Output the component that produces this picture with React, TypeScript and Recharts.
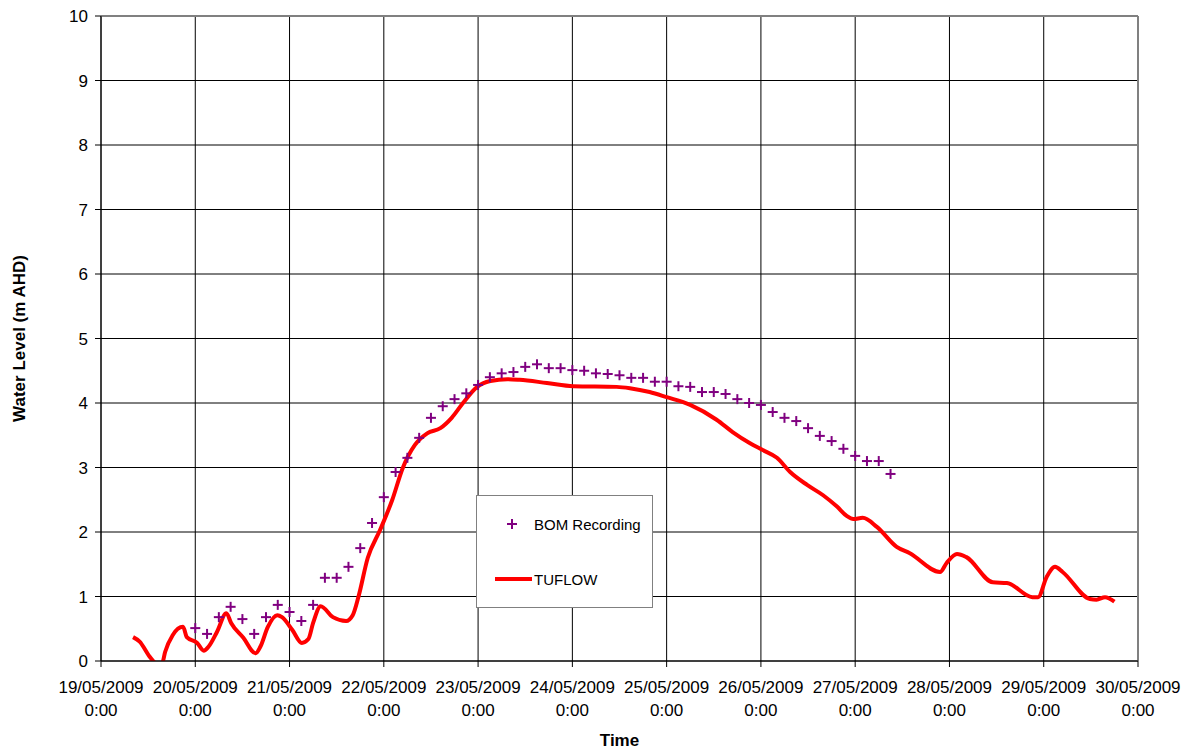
import React from 'react';
import {
  ComposedChart,
  Line,
  Scatter,
  XAxis,
  YAxis,
  CartesianGrid,
  Legend,
  ReferenceLine,
} from 'recharts';

// x values are days since 19/05/2009 0:00
const dayLabels = [
  '19/05/2009', '20/05/2009', '21/05/2009', '22/05/2009', '23/05/2009', '24/05/2009',
  '25/05/2009', '26/05/2009', '27/05/2009', '28/05/2009', '29/05/2009', '30/05/2009',
];
const dayTicks = [0, 1, 2, 3, 4, 5, 6, 7, 8, 9, 10, 11];
const levelTicks = [0, 1, 2, 3, 4, 5, 6, 7, 8, 9, 10];

// BOM gauge readings, every 3 hours (hours since 19/05 0:00)
const bomHours = [
  24, 27, 30, 33, 36, 39, 42, 45, 48, 51, 54, 57, 60, 63, 66, 69, 72, 75, 78, 81,
  84, 87, 90, 93, 96, 99, 102, 105, 108, 111, 114, 117, 120, 123, 126, 129, 132, 135, 138, 141,
  144, 147, 150, 153, 156, 159, 162, 165, 168, 171, 174, 177, 180, 183, 186, 189, 192, 195, 198, 201,
];
const bomLevel = [
  0.51, 0.42, 0.68, 0.84, 0.65, 0.42, 0.68, 0.87, 0.76, 0.62,
  0.87, 1.29, 1.29, 1.46, 1.75, 2.14, 2.54, 2.93, 3.15, 3.46,
  3.77, 3.95, 4.06, 4.15, 4.28, 4.4, 4.46, 4.48, 4.56, 4.6,
  4.54, 4.54, 4.51, 4.5, 4.46, 4.45, 4.43, 4.39, 4.39, 4.33,
  4.33, 4.26, 4.25, 4.17, 4.17, 4.14, 4.06, 4.0, 3.97, 3.86,
  3.77, 3.72, 3.61, 3.49, 3.41, 3.29, 3.18, 3.1, 3.1, 2.9,
];

// TUFLOW model output
const tuflowDay = [
  0.34, 0.41, 0.52, 0.6, 0.65, 0.68, 0.76, 0.87, 0.91, 1.02,
  1.09, 1.14, 1.23, 1.33, 1.38, 1.51, 1.64, 1.69, 1.77, 1.87,
  1.92, 2.03, 2.13, 2.2, 2.25, 2.33, 2.46, 2.6, 2.67, 2.73,
  2.83, 2.96, 3.09, 3.2, 3.33, 3.46, 3.6, 3.72, 3.84, 3.99,
  4.13, 4.31, 4.44, 4.73, 5.01, 5.47, 5.61, 5.82, 6.0, 6.25,
  6.53, 6.7, 6.88, 7.02, 7.17, 7.31, 7.49, 7.66, 7.81, 7.91,
  7.98, 8.08, 8.23, 8.44, 8.58, 8.9, 8.97, 9.08, 9.18, 9.46,
  9.61, 9.88, 9.94, 10.03, 10.12, 10.2, 10.49, 10.56, 10.65, 10.75,
];
const tuflowLevel = [
  0.37, 0.3, 0.06, -0.05, -0.03, 0.14, 0.4, 0.53, 0.37, 0.28,
  0.16, 0.22, 0.45, 0.74, 0.59, 0.36, 0.12, 0.22, 0.53, 0.71,
  0.68, 0.48, 0.28, 0.34, 0.59, 0.85, 0.68, 0.62, 0.71, 0.99,
  1.6, 2.03, 2.5, 2.99, 3.35, 3.53, 3.61, 3.77, 4.0, 4.25,
  4.34, 4.37, 4.36, 4.31, 4.26, 4.25, 4.23, 4.17, 4.09, 3.97,
  3.74, 3.55, 3.38, 3.27, 3.15, 2.93, 2.73, 2.57, 2.39, 2.25,
  2.2, 2.22, 2.08, 1.77, 1.67, 1.38, 1.52, 1.66, 1.61, 1.22,
  1.21, 0.99, 0.99, 1.3, 1.46, 1.38, 0.96, 0.95, 0.99, 0.92,
];

const bomData = bomHours.map((h, i) => ({ t: h / 24, level: bomLevel[i] }));
const tuflowData = tuflowDay.map((d, i) => ({ t: d, level: tuflowLevel[i] }));

const FONT = '"Liberation Sans", Arial, sans-serif';
const PURPLE = '#800080';
const RED = '#FF0000';

const PlusMarker = (props: any) => {
  const { cx, cy } = props;
  if (cx == null || cy == null) return null;
  return (
    <g stroke={PURPLE} strokeWidth={2}>
      <line x1={cx - 5} y1={cy} x2={cx + 5} y2={cy} />
      <line x1={cx} y1={cy - 5} x2={cx} y2={cy + 5} />
    </g>
  );
};

const DateTick = (props: any) => {
  const { x, y, payload } = props;
  return (
    <text x={x} y={y} textAnchor="middle" fill="#000" fontSize={17} fontFamily={FONT}>
      <tspan x={x} dy={24}>{dayLabels[payload.value]}</tspan>
      <tspan x={x} dy={23}>0:00</tspan>
    </text>
  );
};

const YTitle = (props: any) => {
  const { viewBox } = props;
  const cy = viewBox.y + viewBox.height / 2;
  return (
    <text
      x={19}
      y={cy}
      transform={`rotate(-90 19 ${cy})`}
      textAnchor="middle"
      dominantBaseline="central"
      fontSize={17}
      fontWeight="bold"
      fontFamily={FONT}
      fill="#000"
    >
      Water Level (m AHD)
    </text>
  );
};

const XTitle = (props: any) => {
  const { viewBox } = props;
  const cx = viewBox.x + viewBox.width / 2;
  return (
    <text x={cx} y={746} textAnchor="middle" fontSize={17} fontWeight="bold" fontFamily={FONT} fill="#000">
      Time
    </text>
  );
};

const LegendBox = () => (
  <div
    style={{
      width: 177,
      height: 113,
      boxSizing: 'border-box',
      border: '1px solid #808080',
      background: '#fff',
      position: 'relative',
      fontFamily: FONT,
      fontSize: 15,
      color: '#000',
    }}
  >
    <svg width={177} height={113} style={{ position: 'absolute', left: -1, top: -1 }}>
      <PlusMarker cx={36} cy={29} />
      <line x1={19} y1={84} x2={56} y2={84} stroke={RED} strokeWidth={4} />
      <text x={58} y={29} dominantBaseline="central" fontSize={15} fontFamily={FONT} fill="#000">
        BOM Recording
      </text>
      <text x={58} y={84} dominantBaseline="central" fontSize={15} fontFamily={FONT} fill="#000">
        TUFLOW
      </text>
    </svg>
  </div>
);

export default function App() {
  return (
    <div style={{ position: 'absolute', left: 0, top: 0, fontFamily: FONT, background: '#fff' }}>
      <ComposedChart
        width={1187}
        height={751}
        margin={{ top: 16, right: 49, bottom: 0, left: 0 }}
      >
        <CartesianGrid stroke="#000" strokeWidth={1} />
        <XAxis
          type="number"
          dataKey="t"
          domain={[0, 11]}
          ticks={dayTicks}
          interval={0}
          height={90}
          stroke="#000"
          tickSize={6}
          tick={<DateTick />}
          label={<XTitle />}
        />
        {/* keep the 0-10 m range fixed even though the model dips a hair below zero */}
        <YAxis
          type="number"
          dataKey="level"
          domain={[0, 10]}
          ticks={levelTicks}
          allowDataOverflow
          interval={0}
          width={101}
          stroke="#000"
          tickSize={6}
          tickMargin={7}
          tick={{ fill: '#000', fontSize: 17, fontFamily: FONT }}
          label={<YTitle />}
        />
        <ReferenceLine y={10} stroke="#808080" strokeWidth={2} />
        <ReferenceLine x={11} stroke="#808080" strokeWidth={2} />
        <Legend
          layout="horizontal"
          verticalAlign="middle"
          align="center"
          content={<LegendBox />}
          wrapperStyle={{ left: 476, top: 495, width: 177, height: 113 }}
        />
        <Line
          data={tuflowData}
          dataKey="level"
          type="monotone"
          stroke={RED}
          strokeWidth={4}
          dot={false}
          activeDot={false}
          isAnimationActive={false}
          name="TUFLOW"
        />
        <Scatter
          data={bomData}
          dataKey="level"
          shape={<PlusMarker />}
          isAnimationActive={false}
          name="BOM Recording"
        />
      </ComposedChart>
    </div>
  );
}
